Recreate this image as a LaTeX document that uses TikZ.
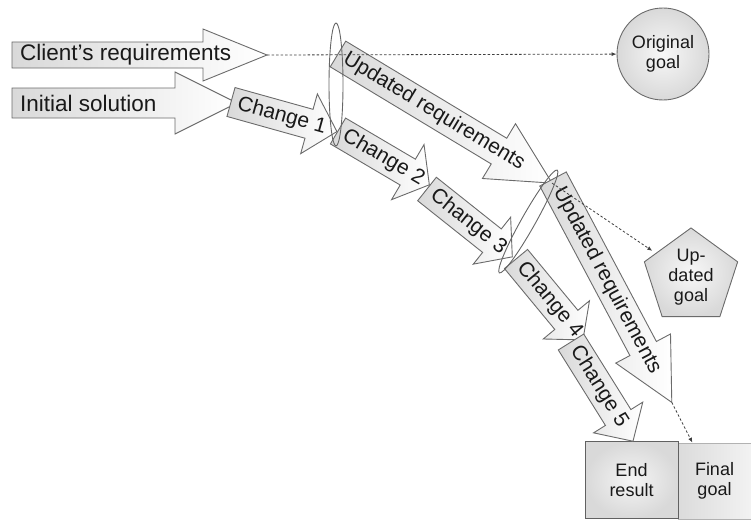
\documentclass[tikz,border=0pt]{standalone}
\usepackage{fontspec}
\setmainfont{Liberation Sans}
\usetikzlibrary{shapes.geometric,arrows.meta}
\tikzset{
  bigarrow/.style={draw=black!58, line width=0.9pt, left color=black!15, right color=white},
  arrowtext/.style={inner sep=0pt, text=black!90, font=\fontsize{21}{21}\selectfont},
  goaltext/.style={align=center, text=black!90, font=\fontsize{18}{20}\selectfont},
  goalcircle/.style={goaltext, circle, draw=black!58, line width=0.9pt, inner color=black!3, outer color=black!15, minimum size=92pt, inner sep=0pt},
  goalpent/.style={goaltext, regular polygon, regular polygon sides=5, draw=black!58, line width=0.9pt, inner color=black!3, outer color=black!15, minimum size=98pt, inner sep=0pt},
  goalbox/.style={goaltext, rectangle, draw=black!62, line width=0.9pt, inner color=black!4, outer color=black!15, minimum width=93pt, minimum height=77pt, inner sep=0pt},
  finalbox/.style={goaltext, rectangle, draw=black!30, line width=0.6pt, left color=black!14, right color=black!5, minimum width=73pt, minimum height=76pt, inner sep=0pt},
  dotconn/.style={draw=black!75, line width=0.8pt, dash pattern=on 2.5pt off 2pt, -{Latex[length=5pt,width=4pt]}},
  ringstyle/.style={draw=black!60, line width=0.9pt}
}
\newcommand\bigtxt{\fontsize{22.5}{22.5}\selectfont}
% #1 name, #2 tail centre, #3 angle, #4 length, #5 body half width,
% #6 head half width, #7 head length, #8 text offset, #9 text
\newcommand\drawbigarrow[9]{%
  \begin{scope}[shift={#2}, rotate=#3]
    \path[bigarrow] (0,-#5) -- ({#4-#7},-#5) -- ({#4-#7},-#6) -- (#4,0)
      -- ({#4-#7},#6) -- ({#4-#7},#5) -- (0,#5) -- cycle;
    \coordinate (#1-tip) at (#4,0);
    \coordinate (#1-tail) at (0,0);
    \node[arrowtext, anchor=west, rotate=#3] (#1) at (#8,0) {#9};
  \end{scope}}

\begin{document}
\begin{tikzpicture}[x=1pt,y=-1pt]
\useasboundingbox (0,0) rectangle (751,519);

% goals
\node[goalcircle] (orig) at (663,54) {Original\\goal};
\node[goalpent] (upd) at (691,277) {Up-\\dated\\goal};
\node[finalbox] (final) at (714.5,481) {Final\\goal};
\node[goalbox] (endres) at (631.5,480) {End\\result};

% arrows
\drawbigarrow{client}{(12,55)}{0}{255}{13}{26}{64}{8}{\bigtxt Client’s requirements}
\drawbigarrow{init}{(12,103)}{0}{225}{15}{31}{62}{8}{\bigtxt Initial solution}
\drawbigarrow{chA}{(231,102)}{-15.6}{110}{15}{31}{29}{7}{Change 1}
\drawbigarrow{urA}{(338,54)}{-31.1}{250}{15}{32}{62}{8}{Updated requirements}
\drawbigarrow{chB}{(338,131)}{-30.5}{106}{15}{32}{25}{7}{Change 2}
\drawbigarrow{chC}{(427,189)}{-38.5}{109}{15}{30}{26}{7}{Change 3}
\drawbigarrow{urB}{(553,179)}{-62}{253}{15}{31}{61}{11}{Updated requirements}
\drawbigarrow{chD}{(516,259)}{-50.4}{105}{15}{30}{26}{7}{Change 4}
\drawbigarrow{chE}{(571,342)}{-58}{117}{15}{29}{28}{7}{Change 5}

% dotted connectors
\draw[dotconn] (client-tip) -- (orig);
\draw[dotconn, shorten >=4pt] (urA-tip) -- (upd);
\draw[dotconn] (urB-tip) -- (final.120);

% rings
\draw[ringstyle] (336,84.5) ellipse [x radius=7, y radius=61.5];
\draw[ringstyle] (528.3,221.5) ellipse [x radius=59, y radius=7, rotate=60.6];
\end{tikzpicture}
\end{document}
